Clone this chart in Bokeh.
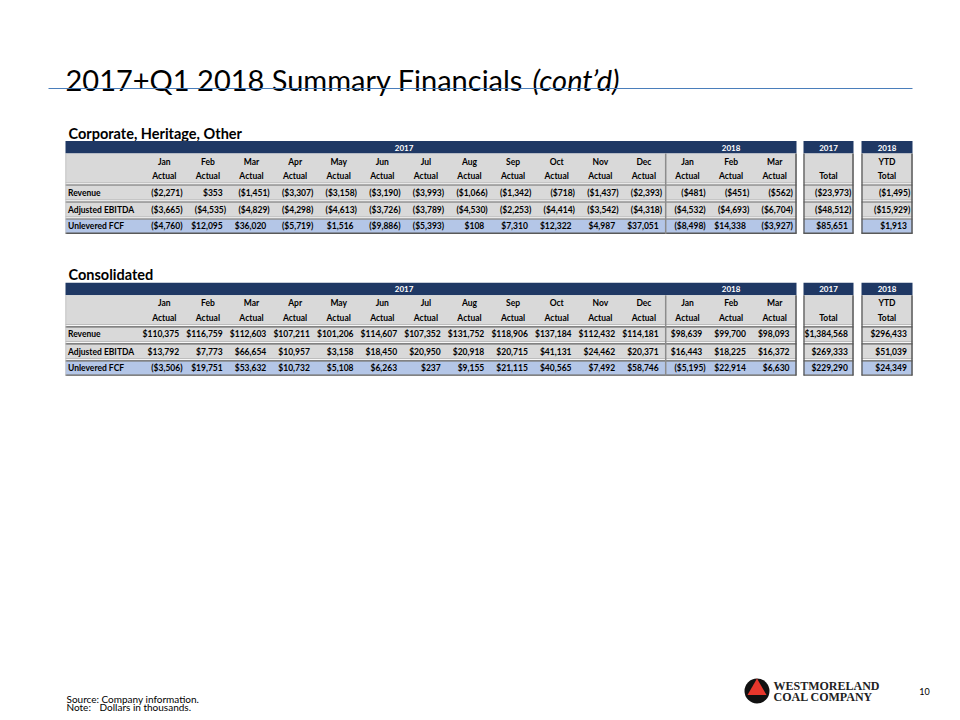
from bokeh.plotting import figure
from bokeh.models import Range1d, ColumnDataSource
from bokeh.core.properties import value
from bokeh.embed import file_html
from bokeh.resources import INLINE

# ---------------- data ----------------
title_main = "2017+Q1 2018 Summary Financials"
title_ital = "(cont\u2019d)"
months = ["Jan", "Feb", "Mar", "Apr", "May", "Jun", "Jul", "Aug", "Sep", "Oct", "Nov", "Dec",
          "Jan", "Feb", "Mar"]
month_status = ["Actual"] * 15
years = ["2017", "2018"]
row_labels = ["Revenue", "Adjusted EBITDA", "Unlevered FCF"]

corp_revenue = [-2271, 353, -1451, -3307, -3158, -3190, -3993, -1066, -1342, -718, -1437, -2393,
                -481, -451, -562]
corp_ebitda = [-3665, -4535, -4829, -4298, -4613, -3726, -3789, -4530, -2253, -4414, -3542, -4318,
               -4532, -4693, -6704]
corp_fcf = [-4760, 12095, 36020, -5719, 1516, -9886, -5393, 108, 7310, 12322, 4987, 37051,
            -8498, 14338, -3927]
corp_total_2017 = [-23973, -48512, 85651]
corp_ytd_2018 = [-1495, -15929, 1913]

cons_revenue = [110375, 116759, 112603, 107211, 101206, 114607, 107352, 131752, 118906, 137184,
                112432, 114181, 98639, 99700, 98093]
cons_ebitda = [13792, 7773, 66654, 10957, 3158, 18450, 20950, 20918, 20715, 41131, 24462, 20371,
               16443, 18225, 16372]
cons_fcf = [-3506, 19751, 53632, 10732, 5108, 6263, 237, 9155, 21115, 40565, 7492, 58746,
            -5195, 22914, 6630]
cons_total_2017 = [1384568, 269333, 229290]
cons_ytd_2018 = [296433, 51039, 24349]

sections = [
    ("Corporate, Heritage, Other", [corp_revenue, corp_ebitda, corp_fcf], corp_total_2017, corp_ytd_2018),
    ("Consolidated", [cons_revenue, cons_ebitda, cons_fcf], cons_total_2017, cons_ytd_2018),
]

# ---------------- style ----------------
NAVY = "#1F3864"
GREY = "#D9D9D9"
BLUE = "#B4C6E7"
DARK = "#595959"
FONT = "Lato"
TFS = "8.5px"

LX0 = 65.0
C0 = 142.0
CW = 43.6
NC = len(months)
MR = C0 + NC * CW
TOT = [(803.0, 853.0), (861.0, 912.0)]
TOPS = [140.5, 282.3]


def fmt(v):
    s = "${:,}".format(abs(v))
    return "(" + s + ")" if v < 0 else s


p = figure(width=952, height=712, x_range=Range1d(0, 952), y_range=Range1d(712, 0),
           output_backend="svg", toolbar_location=None, min_border=0,
           background_fill_color="white", border_fill_color="white")
p.axis.visible = False
p.grid.visible = False
p.outline_line_color = None

# title
p.text(x=[65], y=[78.5], text=[title_main], text_font=value(FONT), text_font_size="29px",
       text_color="black", text_baseline="alphabetic", text_align="left")
p.text(x=[532], y=[78.5], text=[title_ital], text_font=value(FONT), text_font_size="29px",
       text_font_style="italic", text_color="black", text_baseline="alphabetic", text_align="left")
p.segment(x0=[48], y0=[88], x1=[912], y1=[88], line_color="#4A7EBB", line_width=1.2)

blocks = [(LX0, MR)] + TOT

for (sec_title, series, tot17, tot18), t in zip(sections, TOPS):
    p.text(x=[68], y=[t - 8], text=[sec_title], text_font=value(FONT), text_font_size="14.5px",
           text_font_style="bold", text_color="black", text_baseline="alphabetic")
    # bands
    rows_geom = [(t + 44.5, t + 58.5, GREY), (t + 61.5, t + 75.5, GREY), (t + 78.5, t + 92.0, BLUE)]
    L, R, Tp, Bt, F = [], [], [], [], []
    for (bl, br) in blocks:
        L += [bl, bl]; R += [br, br]; Tp += [t, t + 12.5]; Bt += [t + 12.5, t + 41.5]; F += [NAVY, GREY]
        for (y0, y1, c) in rows_geom:
            L.append(bl); R.append(br); Tp.append(y0); Bt.append(y1); F.append(c)
    p.quad(left=L, right=R, top=Tp, bottom=Bt, fill_color=F, line_color=None)

    # separators and borders
    sx0, sx1, sy, sc, sw = [], [], [], [], []
    for (bl, br) in blocks:
        for ys in (t + 41.5, t + 58.5, t + 75.5):
            sx0 += [bl, bl]; sx1 += [br, br]; sy += [ys + 0.3, ys + 2.5]
            sc += ["#A6A6A6", DARK]; sw += [0.8, 1.2]
        sx0.append(bl); sx1.append(br); sy.append(t + 92.3); sc.append(DARK); sw.append(1.4)
    p.segment(x0=sx0, y0=sy, x1=sx1, y1=sy, line_color=sc, line_width=sw)

    vx = [LX0 + 0.3, C0 + 12 * CW, MR - 0.5, TOT[0][0] + 0.5, TOT[0][1] - 0.5, TOT[1][0] + 0.5, TOT[1][1] - 0.5]
    vc = ["#BFBFBF", "#8C8C8C", DARK, DARK, DARK, DARK, DARK]
    vw = [0.8, 1.5, 1.5, 1.3, 1.5, 1.3, 1.5]
    p.segment(x0=vx, y0=[t + 12.5] * len(vx), x1=vx, y1=[t + 92.8] * len(vx), line_color=vc, line_width=vw)

    # header texts
    hx = [(C0 + C0 + 12 * CW) / 2, (C0 + 12 * CW + MR) / 2, sum(TOT[0]) / 2, sum(TOT[1]) / 2]
    p.text(x=hx, y=[t + 6.6] * 4, text=[years[0], years[1], years[0], years[1]], text_font=value(FONT),
           text_font_size="8px", text_font_style="bold", text_color="white", text_align="center",
           text_baseline="middle")
    cx = [C0 + CW * (i + 0.5) for i in range(NC)]
    p.text(x=cx + [sum(TOT[1]) / 2], y=[t + 20.5] * (NC + 1), text=months + ["YTD"], text_font=value(FONT),
           text_font_size=TFS, text_font_style="bold", text_color="black", text_align="center",
           text_baseline="middle")
    p.text(x=cx + [sum(TOT[0]) / 2, sum(TOT[1]) / 2], y=[t + 34.8] * (NC + 2),
           text=month_status + ["Total", "Total"], text_font=value(FONT),
           text_font_size=TFS, text_font_style="bold", text_color="black", text_align="center",
           text_baseline="middle")

    # row labels and values
    ry = [t + 51.5, t + 68.7, t + 85.3]
    p.text(x=[67.5] * 3, y=ry, text=row_labels, text_font=value(FONT), text_font_size=TFS,
           text_font_style="bold", text_color="black", text_baseline="middle")
    vxs, vys, vts = [], [], []
    for r, vals in enumerate(series):
        for i, v in enumerate(vals):
            right = C0 + CW * (i + 1) - 3.6
            vxs.append(right if v < 0 else right - 3.4); vys.append(ry[r]); vts.append(fmt(v))
        for (bl, br), tv in zip(TOT, (tot17[r], tot18[r])):
            right = br - 2.2
            vxs.append(right if tv < 0 else right - 3.4); vys.append(ry[r]); vts.append(fmt(tv))
    src = ColumnDataSource(dict(x=vxs, y=vys, t=vts))
    p.text(x="x", y="y", text="t", source=src, text_font=value(FONT), text_font_size=TFS,
           text_font_style="bold", text_color="black", text_align="right", text_baseline="middle")

# footer
p.text(x=[66, 66], y=[698.5, 706.3], text=["Source:", "Note:"], text_font=value(FONT),
       text_font_size="10px", text_color="black", text_baseline="middle")
p.text(x=[101, 99], y=[698.5, 706.3], text=["Company information.", "Dollars in thousands."],
       text_font=value(FONT), text_font_size="10px", text_color="black", text_baseline="middle")

# logo
p.scatter(x=[756.5], y=[690.5], marker="circle", size=25, fill_color="#111111", line_color=None)
p.scatter(x=[756.5], y=[689.0], marker="triangle", size=19, fill_color="#E8372C", line_color=None)
p.text(x=[773, 773], y=[685, 696.5], text=["WESTMORELAND", "COAL COMPANY"],
       text_font=value("Liberation Serif"), text_font_size="12px", text_font_style="bold",
       text_color="#222222", text_baseline="middle")
p.text(x=[924], y=[691], text=["10"], text_font=value(FONT), text_font_size="9px",
       text_color="black", text_align="center", text_baseline="middle")

open("out.html", "w").write(file_html(p, INLINE))
